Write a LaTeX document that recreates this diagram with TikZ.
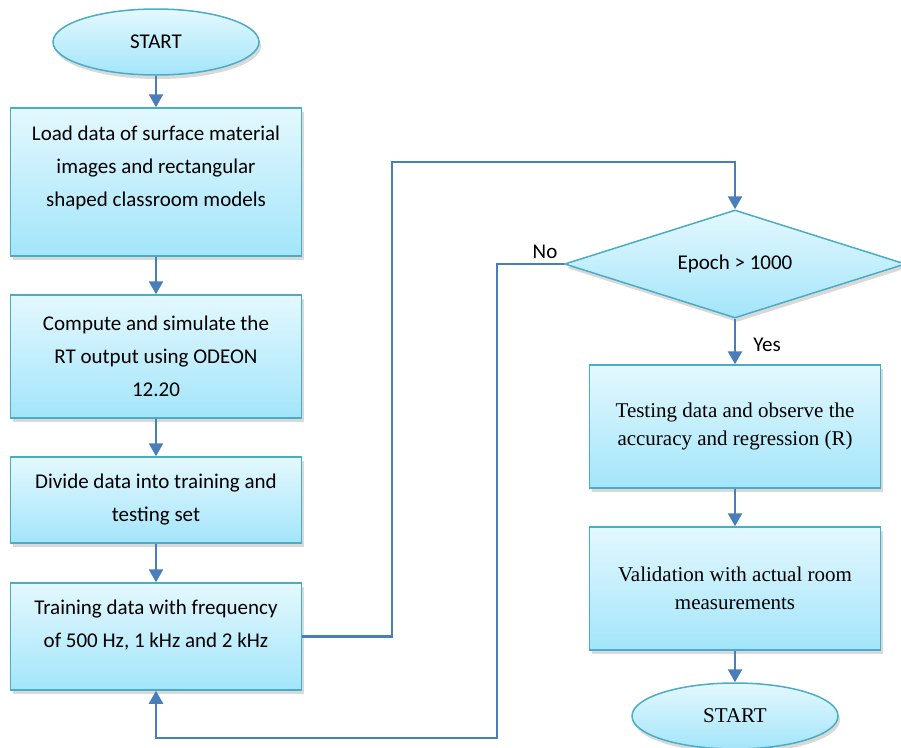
\documentclass[tikz,border=0pt]{standalone}
\usepackage{fontspec}
\setmainfont{Carlito}
\newfontfamily\timesfont{Liberation Serif}
\usetikzlibrary{shapes.geometric,arrows.meta,shadows}
\definecolor{boxtop}{HTML}{E4F8FE}
\definecolor{boxbottom}{HTML}{A3E5FA}
\definecolor{boxline}{HTML}{4BACC6}
\definecolor{arrowline}{HTML}{4A7EBB}

\begin{document}
\begin{tikzpicture}[x=1pt, y=-1pt]
        \tikzstyle{every node}=[font=\fontsize{21}{33}\selectfont]
        \tikzstyle{shade box}=[draw=boxline, line width=1.5pt, top color=boxtop, bottom color=boxbottom, drop shadow={shadow xshift=2pt, shadow yshift=-4pt, opacity=0.3}]
        \tikzstyle{process}=[shade box, rectangle, minimum width=291pt, align=center, inner sep=0pt]
        \tikzstyle{terminal}=[shade box, ellipse, minimum width=206pt, minimum height=66pt]
        \tikzstyle{decision}=[shade box, diamond, aspect=3.16, minimum width=341pt, minimum height=108pt, inner sep=0pt]
        \tikzstyle{serif}=[font=\timesfont\fontsize{21}{28}\selectfont]
        \tikzstyle{line}=[draw=arrowline, line width=2.5pt, -{Triangle[width=14pt,length=13pt]}]
        \useasboundingbox (0,0) rectangle (901,747);
        % left column
        \node[terminal] (start) at (156,42) {START};
        \node[process, minimum height=148pt] (load) at (156,182) {Load data of surface material\\ images and rectangular\\ shaped classroom models\\[-2pt]\mbox{}};
        \node[process, minimum height=123pt] (simulate) at (156,356.5) {Compute and simulate the\\ RT output using ODEON\\ 12.20};
        \node[process, minimum height=86pt] (divide) at (156,500) {Divide data into training and\\ testing set};
        \node[process, minimum height=107pt] (train) at (156,636.5) {Training data with frequency\\ of 500 Hz, 1 kHz and 2 kHz\\[-8pt]\mbox{}};
        % right column
        \node[decision] (epoch) at (735,264) {Epoch > 1000};
        \node[process, serif, minimum height=123pt] (test) at (735,426.5) {Testing data and observe the\\ accuracy and regression (R)};
        \node[process, serif, minimum height=123pt] (valid) at (735,588.5) {Validation with actual room\\ measurements};
        \node[terminal, serif] (stop) at (735,716) {START};
        \node (no) at (545,252) {No};
        \node (yes) at (767,345) {Yes};
        \coordinate (up) at (392,162);
        \coordinate (back) at (497,738);
        % connectors
        \draw[line] (start) -- (load);
        \draw[line] (load) -- (simulate);
        \draw[line] (simulate) -- (divide);
        \draw[line] (divide) -- (train);
        \draw[line] (train.east) -| (up) -| (epoch.north);
        \draw[line] (epoch.west) -| (back) -| (train.south);
        \draw[line] (epoch) -- (test);
        \draw[line] (test) -- (valid);
        \draw[line] (valid) -- (stop);
    \end{tikzpicture}
\end{document}
